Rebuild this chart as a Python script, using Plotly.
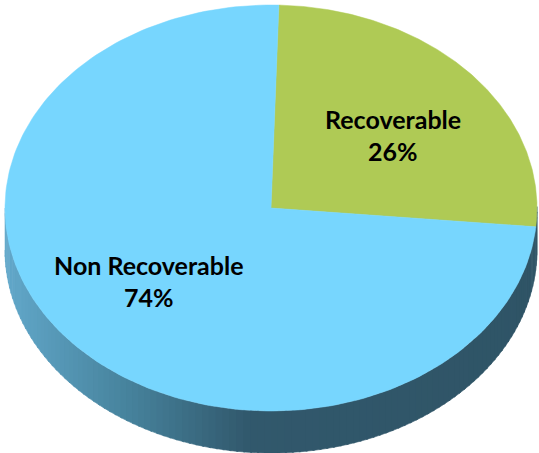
import numpy as np
import plotly.graph_objects as go

labels = ['Recoverable', 'Non Recoverable']
values = [26, 74]
colors = ['#AFCA55', '#77D6FE']

# geometry of the tilted pie (pixel units, y pointing down)
W, H = 539, 453
cx, cy = 271, 208
a, b = 266, 203
depth = 42
start = 88.3  # degrees, slices run clockwise from here
label_fx, label_fy = 0.61, 0.54


def ell(t):
    t = np.radians(t)
    return cx + a * np.cos(t), cy - b * np.sin(t)


def side_color(x):
    # light steel blue on the left, dark slate from about the middle on
    stops = [(5, (98, 168, 202)), (130, (70, 130, 156)), (250, (49, 88, 108)), (540, (47, 84, 102))]
    for (x0, c0), (x1, c1) in zip(stops[:-1], stops[1:]):
        if x <= x1:
            f = max(0, (x - x0) / (x1 - x0))
            c = [int(round(c0[i] + (c1[i] - c0[i]) * f)) for i in range(3)]
            return 'rgb(%d,%d,%d)' % tuple(c)
    return 'rgb(47,84,102)'


fig = go.Figure()

# front side band, drawn as thin strips to fake the gradient
ts = np.linspace(180, 360, 121)
for t0, t1 in zip(ts[:-1], ts[1:]):
    tt = np.linspace(t0, t1 + 0.4, 4)
    xs, ys = ell(tt)
    px = np.concatenate([xs, xs[::-1]])
    py = np.concatenate([ys, ys[::-1] + depth])
    col = side_color(xs.mean())
    fig.add_trace(go.Scatter(x=px, y=py, fill='toself', fillcolor=col, mode='lines',
                             line=dict(color=col, width=0.6), hoverinfo='skip', showlegend=False))

# top face slices
total = sum(values)
ang = start
for lab, v, col in zip(labels, values, colors):
    span = 360 * v / total
    tt = np.linspace(ang, ang - span, 200)
    xs, ys = ell(tt)
    px = np.concatenate([[cx], xs, [cx]])
    py = np.concatenate([[cy], ys, [cy]])
    fig.add_trace(go.Scatter(x=px, y=py, fill='toself', fillcolor=col, mode='lines',
                             line=dict(color=col, width=0.5), hoverinfo='skip', showlegend=False))
    mid = np.radians(ang - span / 2)
    lx = cx + a * label_fx * np.cos(mid)
    ly = cy - b * label_fy * np.sin(mid)
    pct = '%d%%' % round(100 * v / total)
    for txt, dy in [(lab, -16), (pct, 16)]:
        fig.add_annotation(x=lx, y=ly + dy, text='<b>%s</b>' % txt, showarrow=False,
                           font=dict(family='Lato', size=25, color='black'))
    ang -= span

fig.update_layout(
    width=W, height=H,
    margin=dict(l=0, r=0, t=0, b=0),
    paper_bgcolor='white', plot_bgcolor='white',
    xaxis=dict(range=[0, W], visible=False, fixedrange=True),
    yaxis=dict(range=[H, 0], visible=False, fixedrange=True),
)

fig.write_html("out.html", config={'displayModeBar': False},
               post_script="document.body.style.margin='0';")
